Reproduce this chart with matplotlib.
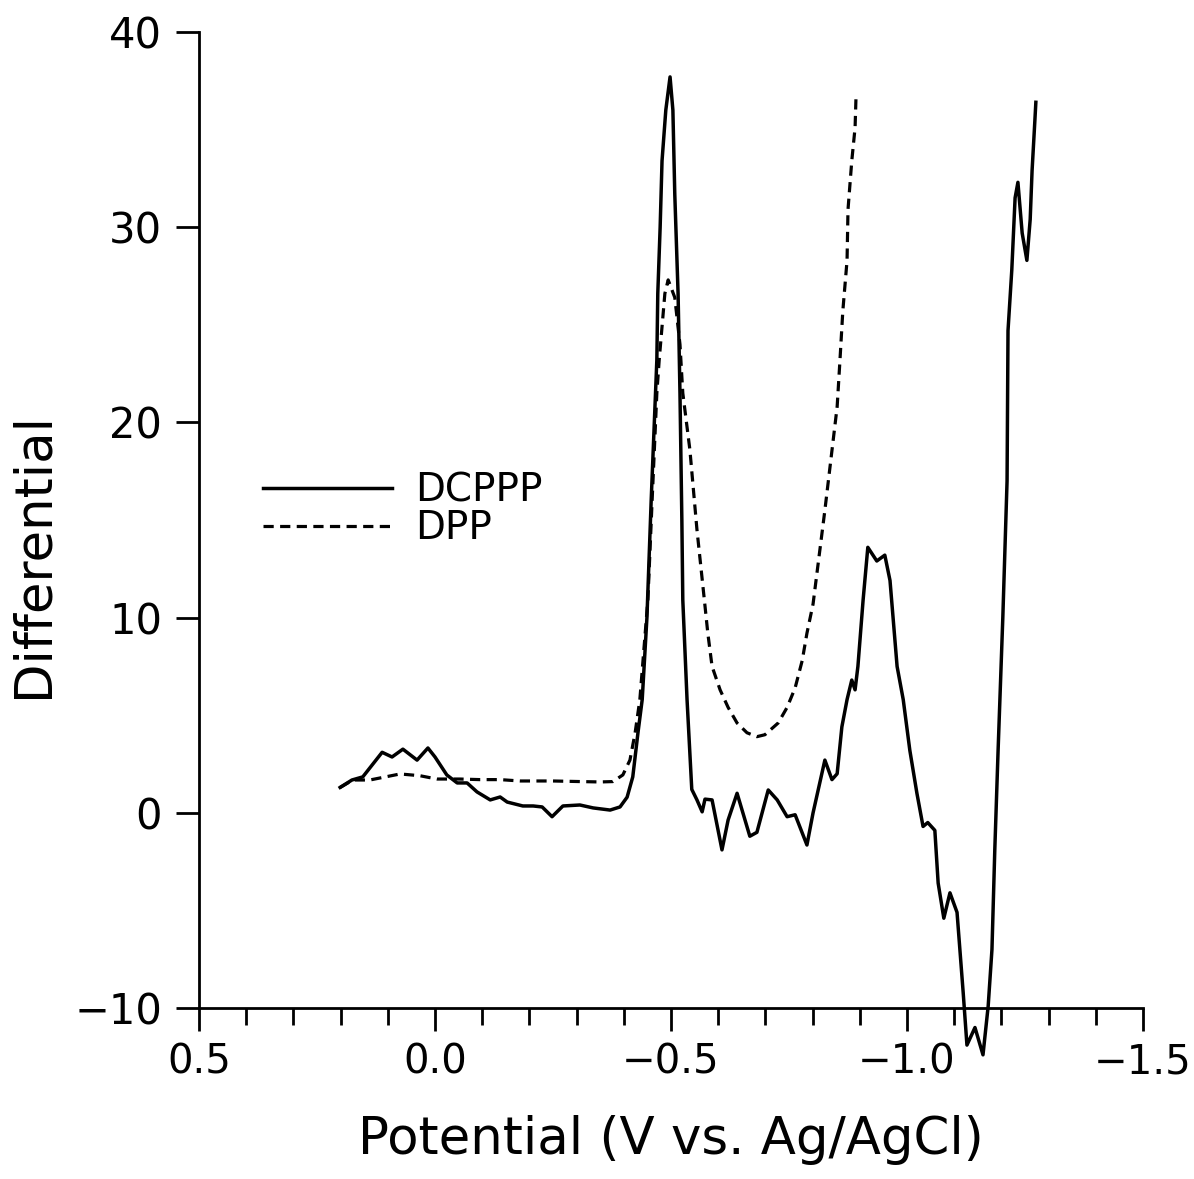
import matplotlib
matplotlib.use("Agg")
import matplotlib.pyplot as plt
import numpy as np

# DCPPP (solid) curve: potential (V) and differential
dcppp_v = [0.201, 0.176, 0.153, 0.112, 0.091, 0.068, 0.038, 0.015, 0.000, -0.025,
           -0.047, -0.068, -0.089, -0.117, -0.138, -0.153, -0.186, -0.208, -0.227,
           -0.248, -0.271, -0.307, -0.335, -0.371, -0.392, -0.407, -0.419, -0.430,
           -0.439, -0.449, -0.458, -0.466, -0.470, -0.472, -0.477, -0.481, -0.489,
           -0.498, -0.504, -0.508, -0.515, -0.519, -0.523, -0.525, -0.534, -0.544,
           -0.555, -0.566, -0.572, -0.587, -0.608, -0.621, -0.640, -0.667, -0.682,
           -0.706, -0.725, -0.746, -0.763, -0.788, -0.801, -0.826, -0.841, -0.852,
           -0.862, -0.873, -0.883, -0.890, -0.896, -0.907, -0.917, -0.936, -0.953,
           -0.964, -0.979, -0.992, -1.006, -1.021, -1.034, -1.044, -1.059, -1.066,
           -1.078, -1.091, -1.106, -1.119, -1.127, -1.144, -1.161, -1.172, -1.180,
           -1.186, -1.193, -1.203, -1.212, -1.214, -1.222, -1.229, -1.235, -1.244,
           -1.254, -1.261, -1.265, -1.271, -1.273]
dcppp_d = [1.3, 1.68, 1.84, 3.1, 2.86, 3.26, 2.7, 3.32, 2.86, 1.94,
           1.53, 1.53, 1.07, 0.66, 0.81, 0.55, 0.35, 0.35, 0.3,
           -0.2, 0.35, 0.4, 0.25, 0.14, 0.3, 0.8, 1.84, 4.1,
           5.8, 10.0, 16.0, 20.8, 23.2, 26.6, 30.0, 33.4, 36.0,
           37.7, 36.0, 31.7, 26.6, 21.5, 15.0, 10.9, 5.8, 1.2,
           0.66, 0.05, 0.7, 0.66, -1.9, -0.37, 1.0, -1.2, -1.0,
           1.17, 0.66, -0.2, -0.1, -1.65, 0.0, 2.7, 1.7, 2.0,
           4.4, 5.8, 6.8, 6.3, 7.5, 10.9, 13.6, 12.9, 13.2,
           11.9, 7.5, 5.8, 3.2, 1.0, -0.7, -0.5, -0.9, -3.6,
           -5.4, -4.1, -5.1, -9.2, -11.9, -11.0, -12.4, -9.9, -7.0,
           -1.9, 3.2, 10.0, 17.0, 24.7, 27.8, 31.5, 32.3, 29.7,
           28.3, 30.4, 32.9, 35.5, 36.4]

# DPP (dashed) curve
dpp_v = [0.201, 0.174, 0.138, 0.074, 0.032, -0.004, -0.053, -0.095, -0.138, -0.180,
         -0.250, -0.307, -0.350, -0.377, -0.398, -0.413, -0.424, -0.434, -0.451,
         -0.460, -0.470, -0.475, -0.481, -0.487, -0.494, -0.508, -0.519, -0.525,
         -0.540, -0.555, -0.572, -0.578, -0.587, -0.604, -0.621, -0.640, -0.661,
         -0.682, -0.699, -0.727, -0.746, -0.763, -0.778, -0.788, -0.801, -0.826,
         -0.852, -0.858, -0.864, -0.873, -0.875, -0.883, -0.890, -0.892]
dpp_d = [1.3, 1.68, 1.68, 1.99, 1.9, 1.73, 1.73, 1.7, 1.7, 1.63,
         1.63, 1.6, 1.58, 1.6, 1.94, 2.7, 4.1, 5.8, 10.9,
         16.0, 21.5, 23.2, 24.9, 26.6, 27.3, 26.4, 24.0, 21.5,
         18.6, 14.5, 10.6, 9.2, 7.5, 6.3, 5.4, 4.6, 4.1,
         3.9, 4.0, 4.6, 5.4, 6.4, 7.8, 9.2, 10.7, 15.5,
         20.8, 23.2, 25.7, 28.3, 30.9, 33.4, 35.1, 36.7]

x_ticks = [0.5, 0.0, -0.5, -1.0, -1.5]
y_ticks = [-10, 0, 10, 20, 30, 40]
labels = ["DCPPP", "DPP"]

plt.rcParams['font.family'] = ['DejaVu Sans']
fig = plt.figure(figsize=(11.94, 11.79), dpi=100)
ax = fig.add_axes([199/1194, 1 - 1008/1179, (1143 - 199)/1194, (1008 - 32)/1179])

ax.plot(dcppp_v, dcppp_d, color='black', lw=2.5, label=labels[0], clip_on=False)
ax.plot(dpp_v, dpp_d, color='black', lw=2.3, linestyle=(0, (3.2, 2.0)),
        label=labels[1], clip_on=False)

ax.set_xlim(0.5, -1.5)
ax.set_ylim(-10, 40)
ax.spines['top'].set_visible(False)
ax.spines['right'].set_visible(False)
ax.spines['left'].set_linewidth(2.0)
ax.spines['bottom'].set_linewidth(2.0)

ax.set_xticks(x_ticks)
ax.set_xticklabels(["0.5", "0.0", "\u22120.5", "\u22121.0", "\u22121.5"])
ax.set_xticks(np.arange(-1.5, 0.51, 0.1), minor=True)
ax.set_yticks(y_ticks)
ax.set_yticklabels(["\u221210", "0", "10", "20", "30", "40"])
ax.tick_params(axis='x', which='major', direction='out', length=16.5, width=2.0,
               labelsize=29, pad=8)
ax.tick_params(axis='x', which='minor', direction='out', length=12, width=2.0)
ax.tick_params(axis='y', which='major', direction='out', length=16.5, width=2.0,
               labelsize=30, pad=10)

ax.set_xlabel("Potential (V vs. Ag/AgCl)", fontsize=37, labelpad=24)
ax.set_ylabel("Differential", fontsize=37)
ax.yaxis.set_label_coords(-0.149, 0.464)

leg = ax.legend(loc='upper left', bbox_to_anchor=(0.068, 0.55), frameon=False,
                fontsize=28, handlelength=3.3, handletextpad=0.6,
                labelspacing=0.0, borderpad=0, borderaxespad=0)

fig.savefig("out.png", dpi=100, facecolor='white')
